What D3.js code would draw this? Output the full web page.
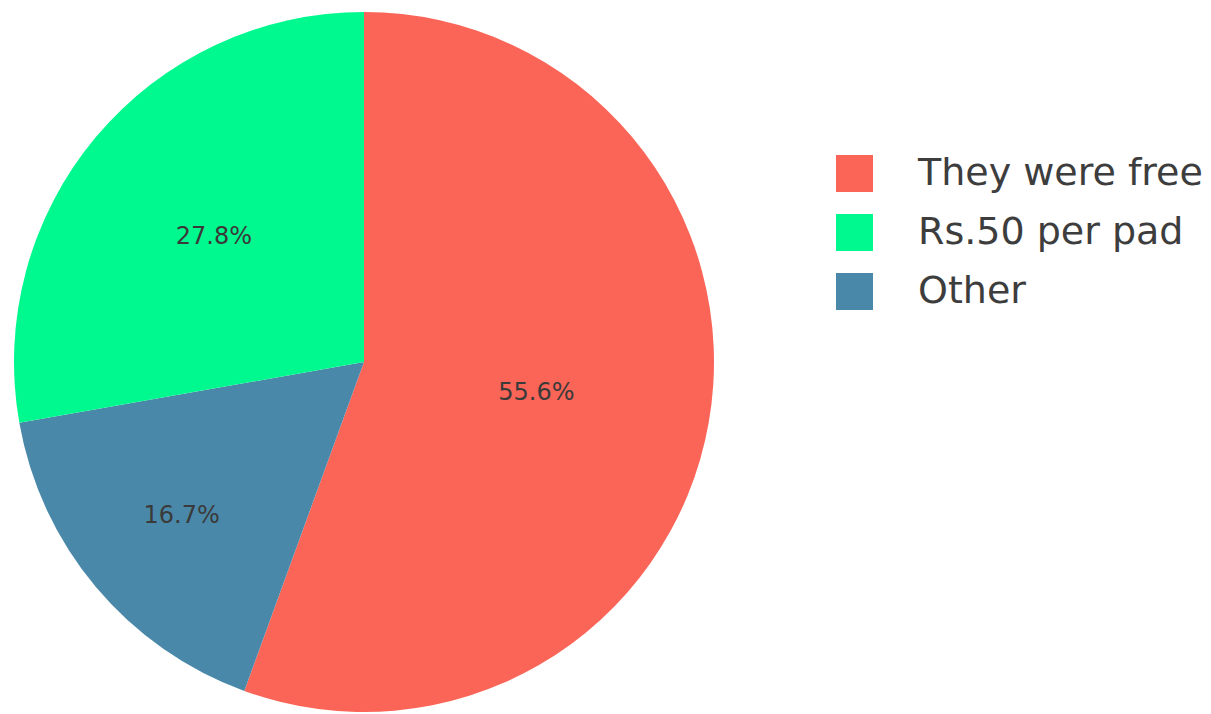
<!DOCTYPE html>
<html><head><meta charset="utf-8">
<script src="https://cdn.jsdelivr.net/npm/d3@7"></script>
<style>html,body{margin:0;padding:0;background:#fff;}</style>
</head><body>
<svg id="chart" width="1211" height="714"></svg>
<script>
const categories = ["They were free", "Rs.50 per pad", "Other"];
const counts = [10, 5, 3];
const colors = ["#FB6558", "#00F98E", "#4A88A9"];
// drawing order clockwise from top
const sliceOrder = [0, 2, 1];

const svg = d3.select("#chart");
const cx = 364, cy = 362, R = 350;
const total = d3.sum(counts);

const pie = d3.pie().sort(null).value(d => counts[d]);
const arcs = pie(sliceOrder);
const arc = d3.arc().innerRadius(0).outerRadius(R);

const g = svg.append("g").attr("transform", `translate(${cx},${cy})`);
g.selectAll("path").data(arcs).join("path")
  .attr("d", arc)
  .attr("fill", d => colors[d.data]);

const labelFrac = {0: 0.50, 1: 0.56, 2: 0.68};
g.selectAll("text").data(arcs).join("text")
  .attr("transform", d => {
    const a = (d.startAngle + d.endAngle) / 2;
    const r = R * labelFrac[d.data];
    return `translate(${r * Math.sin(a)},${-r * Math.cos(a)})`;
  })
  .attr("text-anchor", "middle")
  .attr("dominant-baseline", "central")
  .attr("font-family", "DejaVu Sans, Verdana, sans-serif")
  .attr("font-size", 24)
  .attr("fill", "#3a3a3a")
  .text(d => (counts[d.data] / total * 100).toFixed(1) + "%");

const legend = svg.append("g").attr("transform", "translate(836,155)");
const rows = legend.selectAll("g").data(categories).join("g")
  .attr("transform", (d, i) => `translate(0,${i * 59})`);
rows.append("rect").attr("width", 37).attr("height", 37)
  .attr("fill", (d, i) => colors[i]);
rows.append("text").attr("x", 82).attr("y", 30)
  .attr("font-family", "DejaVu Sans, Verdana, sans-serif")
  .attr("font-size", 38)
  .attr("fill", "#3d3d3d")
  .text(d => d);
</script>
</body></html>
